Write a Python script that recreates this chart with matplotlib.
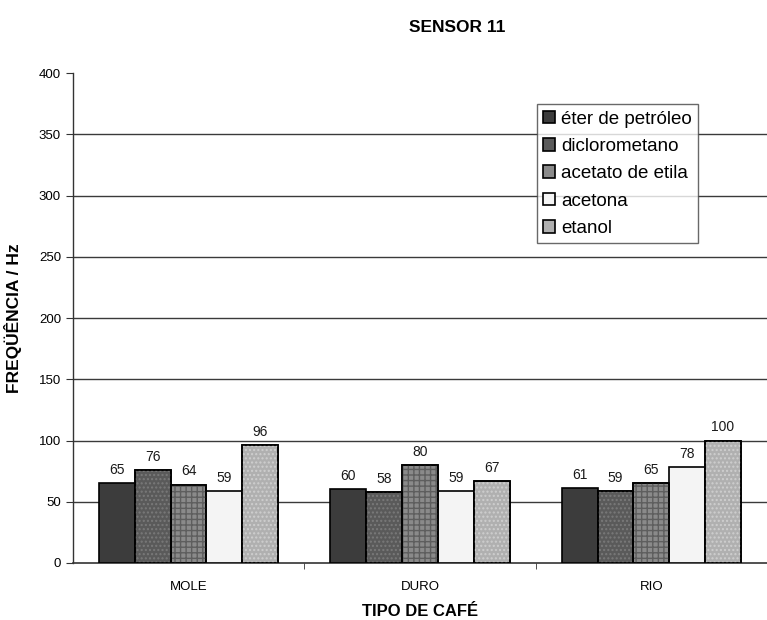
import numpy as np
import matplotlib
matplotlib.use("Agg")
import matplotlib.pyplot as plt
from matplotlib.ticker import FixedLocator

plt.rcParams['font.family'] = ['Liberation Sans', 'DejaVu Sans']

### DATA ###
categories = ["MOLE", "DURO", "RIO"]
solvents = ["éter de petróleo", "diclorometano", "acetato de etila", "acetona", "etanol"]
eter = [65, 60, 61]
dicloro = [76, 58, 59]
acetato = [64, 80, 65]
acetona = [59, 59, 78]
etanol = [96, 67, 100]
yticks = [0, 50, 100, 150, 200, 250, 300, 350, 400]

series = [eter, dicloro, acetato, acetona, etanol]
colors = ["#3c3c3c", "#5a5a5a", "#8a8a8a", "#f4f4f4", "#b0b0b0"]
hatches = [None, "....", "+++", None, "...."]
hatch_cols = [None, "#7a7a7a", "#5e5e5e", None, "#cfcfcf"]

### PLOTTING ###
fig = plt.figure(figsize=(7.67, 6.2), dpi=100)
ax = fig.add_axes([0.095, 0.092, 0.905, 0.790])

x = np.arange(len(categories))
w = 0.155
handles = []
for i, vals in enumerate(series):
	pos = x + (i - 2) * w
	b = ax.bar(pos, vals, w, color=colors[i], edgecolor="black", linewidth=1.2, label=solvents[i], zorder=3)
	if hatches[i]:
		ax.bar(pos, vals, w, fill=False, hatch=hatches[i], edgecolor=hatch_cols[i], linewidth=0, zorder=3.5)
		ax.bar(pos, vals, w, fill=False, edgecolor="black", linewidth=1.2, zorder=4)
	handles.append(b)
	for p, v in zip(pos, vals):
		ax.text(p, v + 5, str(v), ha="center", va="bottom", fontsize=10, color="#1a1a1a")

for t in yticks[1:-1]:
	ax.axhline(t, color="#3a3a3a", linewidth=1.0, zorder=1)

ax.set_ylim(0, 400)
ax.set_xlim(-0.5, 2.5)
ax.set_yticks(yticks)
ax.set_xticks(x)
ax.set_xticklabels(categories, fontsize=9.5)
ax.xaxis.set_minor_locator(FixedLocator([0.5, 1.5]))
ax.tick_params(axis="x", which="major", length=0, pad=13)
ax.tick_params(axis="x", which="minor", length=4, direction="out", color="#333333")
ax.tick_params(axis="y", length=5, direction="out", labelsize=9.5, color="#333333")

for s in ["top", "right"]:
	ax.spines[s].set_visible(False)
ax.spines["left"].set_color("#333333")
ax.spines["bottom"].set_color("#333333")
ax.spines["left"].set_linewidth(1.0)
ax.spines["bottom"].set_linewidth(1.2)

ax.set_ylabel("FREQÜÊNCIA / Hz", fontsize=12.5, fontweight="bold", labelpad=12)
ax.set_xlabel("TIPO DE CAFÉ", fontsize=12, fontweight="bold", labelpad=8)
fig.text(457 / 767, 1 - 27 / 620, "SENSOR 11", ha="center", va="center", fontsize=12.5, fontweight="bold")

leg = ax.legend(handles, solvents, loc="upper left", bbox_to_anchor=(0.668, 0.937), fontsize=13.5,
	frameon=True, fancybox=False, edgecolor="#444444", handlelength=0.65, handleheight=0.65,
	handletextpad=0.3, labelspacing=0.55, borderpad=0.35, borderaxespad=0)
leg.get_frame().set_linewidth(1.0)
leg.set_zorder(5)

plt.savefig("out.png", dpi=100)
